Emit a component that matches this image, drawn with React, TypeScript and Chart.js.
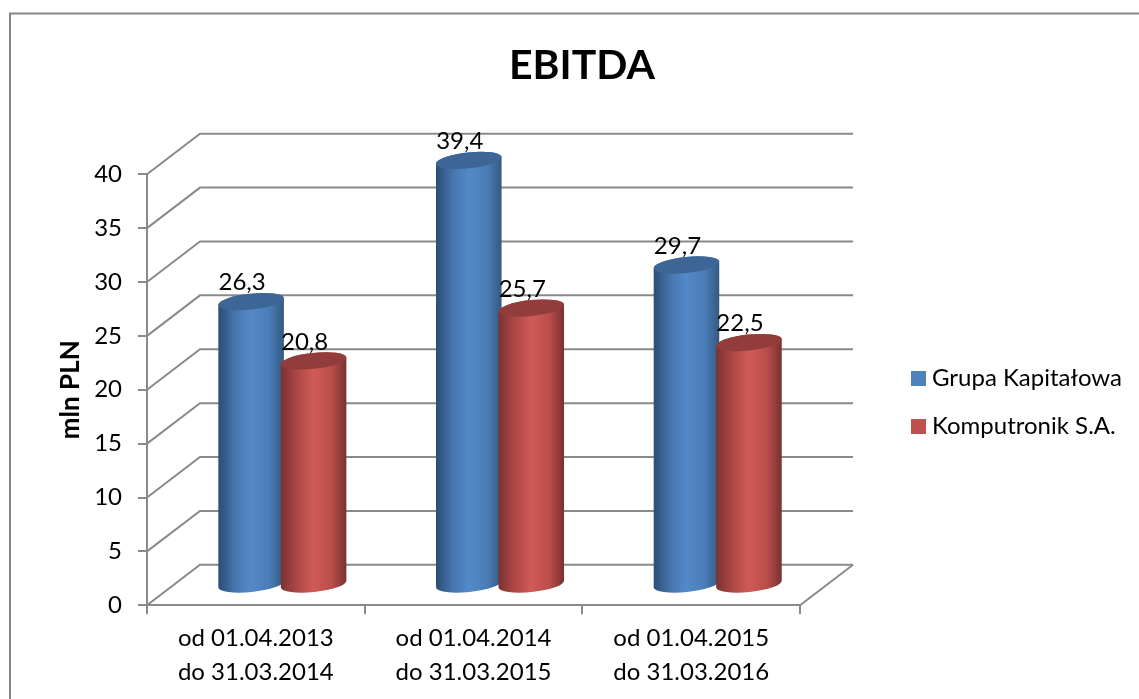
import React, { useEffect, useRef } from "react";
import { Chart, registerables } from "chart.js";

Chart.register(...registerables);

const categories = [
  ["od 01.04.2013", "do 31.03.2014"],
  ["od 01.04.2014", "do 31.03.2015"],
  ["od 01.04.2015", "do 31.03.2016"],
];
const groupValues = [26.3, 39.4, 29.7];
const spolkaValues = [20.8, 25.7, 22.5];
const seriesNames = ["Grupa Kapitałowa", "Komputronik S.A."];
const chartTitle = "EBITDA";
const yTitle = "mln PLN";

const FONT = "Lato, 'Open Sans', sans-serif";
const GRID = "#8a8a8a";
const DEPTH_X = 53;
const DEPTH_Y = 40.5;

const shades = [
  { stops: ["#2b4c74", "#4675ad", "#5489c9", "#4a7cb8", "#33597f"], top: "#3d6696" },
  { stops: ["#7a3230", "#ad4745", "#d05b58", "#b84d4a", "#773130"], top: "#923d3b" },
];

const wallsPlugin = {
  id: "walls",
  beforeDraw(chart: any) {
    const { ctx, chartArea, scales, width, height } = chart;
    const y = scales.y;
    ctx.save();
    ctx.strokeStyle = "#868686";
    ctx.lineWidth = 2;
    ctx.beginPath();
    ctx.moveTo(10, height);
    ctx.lineTo(10, 13.5);
    ctx.lineTo(width, 13.5);
    ctx.stroke();

    ctx.strokeStyle = GRID;
    ctx.lineWidth = 2;
    for (const t of y.ticks) {
      const py = y.getPixelForValue(t.value);
      ctx.beginPath();
      ctx.moveTo(chartArea.left, py);
      ctx.lineTo(chartArea.left + DEPTH_X, py - DEPTH_Y);
      ctx.lineTo(chartArea.right + DEPTH_X, py - DEPTH_Y);
      ctx.stroke();
    }
    const by = y.getPixelForValue(0);
    ctx.beginPath();
    ctx.moveTo(chartArea.right + DEPTH_X, by - DEPTH_Y);
    ctx.lineTo(chartArea.right, by);
    ctx.stroke();
    ctx.restore();
  },
};

const cylindersPlugin = {
  id: "cylinders",
  beforeDatasetsDraw(chart: any) {
    const { ctx } = chart;
    const rot = (-6 * Math.PI) / 180;
    const labels: { x: number; y: number; text: string }[] = [];
    const count = chart.data.labels.length;
    for (let i = 0; i < count; i++) {
      chart.data.datasets.forEach((ds: any, d: number) => {
        const el = chart.getDatasetMeta(d).data[i];
        const cx = el.x + DEPTH_X / 2;
        const rx = (el.width / 2) * 1.055;
        const ry = 8;
        const topY = el.y - DEPTH_Y / 2;
        const botY = el.base - DEPTH_Y / 2;
        const dx = rx * Math.cos(rot);
        const dyy = rx * Math.sin(rot);
        const g = ctx.createLinearGradient(cx - rx, 0, cx + rx, 0);
        const s = shades[d].stops;
        g.addColorStop(0, s[0]);
        g.addColorStop(0.25, s[1]);
        g.addColorStop(0.5, s[2]);
        g.addColorStop(0.78, s[3]);
        g.addColorStop(1, s[4]);
        ctx.save();
        ctx.beginPath();
        ctx.ellipse(cx, botY, rx, ry, rot, 0, Math.PI);
        ctx.lineTo(cx - dx, topY - dyy);
        ctx.ellipse(cx, topY, rx, ry, rot, Math.PI, 2 * Math.PI);
        ctx.closePath();
        ctx.fillStyle = g;
        ctx.fill();
        ctx.beginPath();
        ctx.ellipse(cx, topY, rx, ry, rot, 0, 2 * Math.PI);
        ctx.fillStyle = shades[d].top;
        ctx.fill();
        ctx.restore();
        labels.push({ x: cx - 9, y: topY - 19, text: String(ds.data[i]).replace(".", ",") });
      });
    }
    ctx.save();
    ctx.fillStyle = "#000";
    ctx.font = `24px ${FONT}`;
    ctx.textAlign = "center";
    ctx.textBaseline = "middle";
    for (const l of labels) ctx.fillText(l.text, l.x, l.y);
    ctx.restore();
    return false;
  },
};

const placementPlugin = {
  id: "placement",
  afterLayout(chart: any) {
    const lg = chart.legend;
    const shift = 893 - lg.left;
    lg.left += shift;
    lg.right += shift;
    const vshift = 402.5 - (lg.top + lg.bottom) / 2;
    lg.top += vshift;
    lg.bottom += vshift;
    const t = chart.titleBlock;
    const tshift = 582 - (t.left + t.right) / 2;
    t.left += tshift;
    t.right += tshift;
  },
};

export default function App() {
  const ref = useRef<HTMLCanvasElement>(null);
  useEffect(() => {
    const chart = new Chart(ref.current!, {
      type: "bar",
      data: {
        labels: categories,
        datasets: [
          { label: seriesNames[0], data: groupValues, backgroundColor: "#4F81BD", borderColor: "#4F81BD" },
          { label: seriesNames[1], data: spolkaValues, backgroundColor: "#C0504D", borderColor: "#C0504D" },
        ],
      },
      options: {
        responsive: false,
        animation: false,
        layout: { padding: { left: 58, right: 100, top: 41, bottom: 0 } },
        datasets: { bar: { barPercentage: 1, categoryPercentage: 0.574 } },
        plugins: {
          title: {
            display: true,
            text: chartTitle,
            color: "#000",
            font: { family: FONT, size: 41, weight: "bold" },
            padding: { top: 0, bottom: 84 },
          },
          legend: {
            position: "right",
            labels: {
              color: "#000",
              font: { family: FONT, size: 24 },
              boxWidth: 3,
              boxHeight: 3,
              padding: 24,
              generateLabels: (c: any) =>
                Chart.defaults.plugins.legend.labels.generateLabels(c).map((item: any) => ({
                  ...item,
                  lineWidth: 12,
                  lineJoin: "miter",
                  lineCap: "butt",
                })),
            },
          },
          tooltip: { enabled: false },
        },
        scales: {
          x: {
            grid: { drawOnChartArea: false, color: GRID, lineWidth: 2, tickLength: 9 },
            border: { color: GRID, width: 2 },
            ticks: { color: "#000", font: { family: FONT, size: 24, lineHeight: 1.42 }, padding: 7, maxRotation: 0 },
            afterFit: (s: any) => { s.height = 93.7; },
          },
          y: {
            min: 0,
            max: 40,
            ticks: { stepSize: 5, color: "#000", font: { family: FONT, size: 24 }, padding: 16 },
            grid: { drawOnChartArea: false, color: GRID, lineWidth: 2, tickLength: 9 },
            border: { color: GRID, width: 2 },
            title: {
              display: true,
              text: yTitle,
              color: "#000",
              font: { family: FONT, size: 26, weight: "bold", lineHeight: 1 },
              padding: 0,
            },
            afterFit: (s: any) => { s.width = 89; },
          },
        },
      },
      plugins: [wallsPlugin, cylindersPlugin, placementPlugin],
    } as any);
    return () => chart.destroy();
  }, []);
  return (
    <canvas
      ref={ref}
      width={1139}
      height={699}
      style={{ position: "fixed", left: 0, top: 0, display: "block" }}
    />
  );
}
